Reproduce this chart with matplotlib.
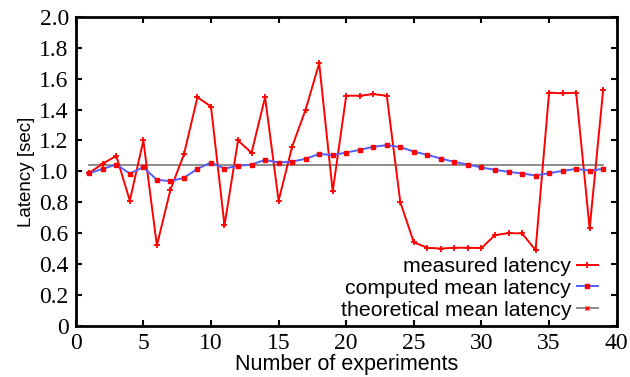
import numpy as np
import matplotlib

matplotlib.use("Agg")

import matplotlib.pyplot as plt
from matplotlib.lines import Line2D


experiments = np.arange(1, 40)

measured_latency = [
    0.99, 1.05, 1.10, 0.81, 1.20, 0.52, 0.88, 1.11, 1.48, 1.42,
    0.65, 1.20, 1.12, 1.48, 0.81, 1.16, 1.40, 1.70, 0.87, 1.49,
    1.49, 1.50, 1.49, 0.80, 0.54, 0.505, 0.50, 0.505, 0.505, 0.503,
    0.587, 0.60, 0.598, 0.49, 1.51, 1.505, 1.51, 0.63, 1.53,
]

computed_mean = [
    0.988, 1.016, 1.044, 0.986, 1.027, 0.945, 0.937, 0.958, 1.016, 1.057,
    1.018, 1.036, 1.044, 1.074, 1.057, 1.063, 1.081, 1.113, 1.105, 1.122,
    1.139, 1.159, 1.170, 1.157, 1.128, 1.107, 1.083, 1.061, 1.044, 1.025,
    1.010, 0.997, 0.986, 0.973, 0.988, 1.003, 1.016, 1.005, 1.016,
]

theoretical_x = [1, 39]
theoretical_mean = [1.04, 1.04]

RED = "#ff0000"
BLUE = "#5060ff"
GRAY = "#8c8c8c"

sans = "Liberation Sans"
serif = "Liberation Serif"

fig = plt.figure(figsize=(6.3, 3.77), dpi=100)
ax = fig.add_axes([0.1202, 0.136, 0.8587, 0.819])

ax.plot(theoretical_x, theoretical_mean, color=GRAY, linewidth=1.4, zorder=2)
ax.plot(
    experiments, measured_latency,
    color=RED, linewidth=1.4, marker="+", markersize=4, markeredgewidth=1.3,
    zorder=3,
)
ax.plot(
    experiments, computed_mean,
    color=BLUE, linewidth=1.4, marker="s", markersize=3.3,
    markerfacecolor=RED, markeredgecolor=RED, zorder=4,
)

ax.set_xlim(0, 40)
ax.set_ylim(0, 2.0)
ax.set_xticks(np.arange(0, 41, 5))
ax.set_yticks(np.arange(0, 2.01, 0.2))
ax.set_yticklabels(["0"] + [f"{v:.1f}" for v in np.arange(0.2, 2.01, 0.2)])

ax.tick_params(
    direction="in", top=True, right=True, length=4, width=1.5,
    labelsize=17, pad=5,
)
for lab in ax.get_xticklabels() + ax.get_yticklabels():
    lab.set_fontfamily(serif)

for spine in ax.spines.values():
    spine.set_linewidth(2)

ax.set_xlabel("Number of experiments", fontfamily=sans, fontsize=15.5, labelpad=0)
ax.set_ylabel("Latency [sec]", fontfamily=sans, fontsize=13.5, labelpad=3)

handles = [
    Line2D([0], [0], color=RED, linewidth=1.4, marker="+", markersize=4,
           markeredgewidth=1.3, label="measured latency"),
    Line2D([0], [0], color=BLUE, linewidth=1.4, marker="s", markersize=3.3,
           markerfacecolor=RED, markeredgecolor=RED, label="computed mean latency"),
    Line2D([0], [0], color=GRAY, linewidth=1.4, marker="x", markersize=3,
           markeredgecolor=RED, label="theoretical mean latency"),
]
ax.legend(
    handles=handles, loc="lower right", bbox_to_anchor=(0.965, 0.02),
    frameon=False, markerfirst=False, handlelength=1.0, handletextpad=0.25,
    labelspacing=0.13, borderaxespad=0, borderpad=0,
    prop={"family": sans, "size": 15.3},
)

fig.savefig("out.png", dpi=100)
